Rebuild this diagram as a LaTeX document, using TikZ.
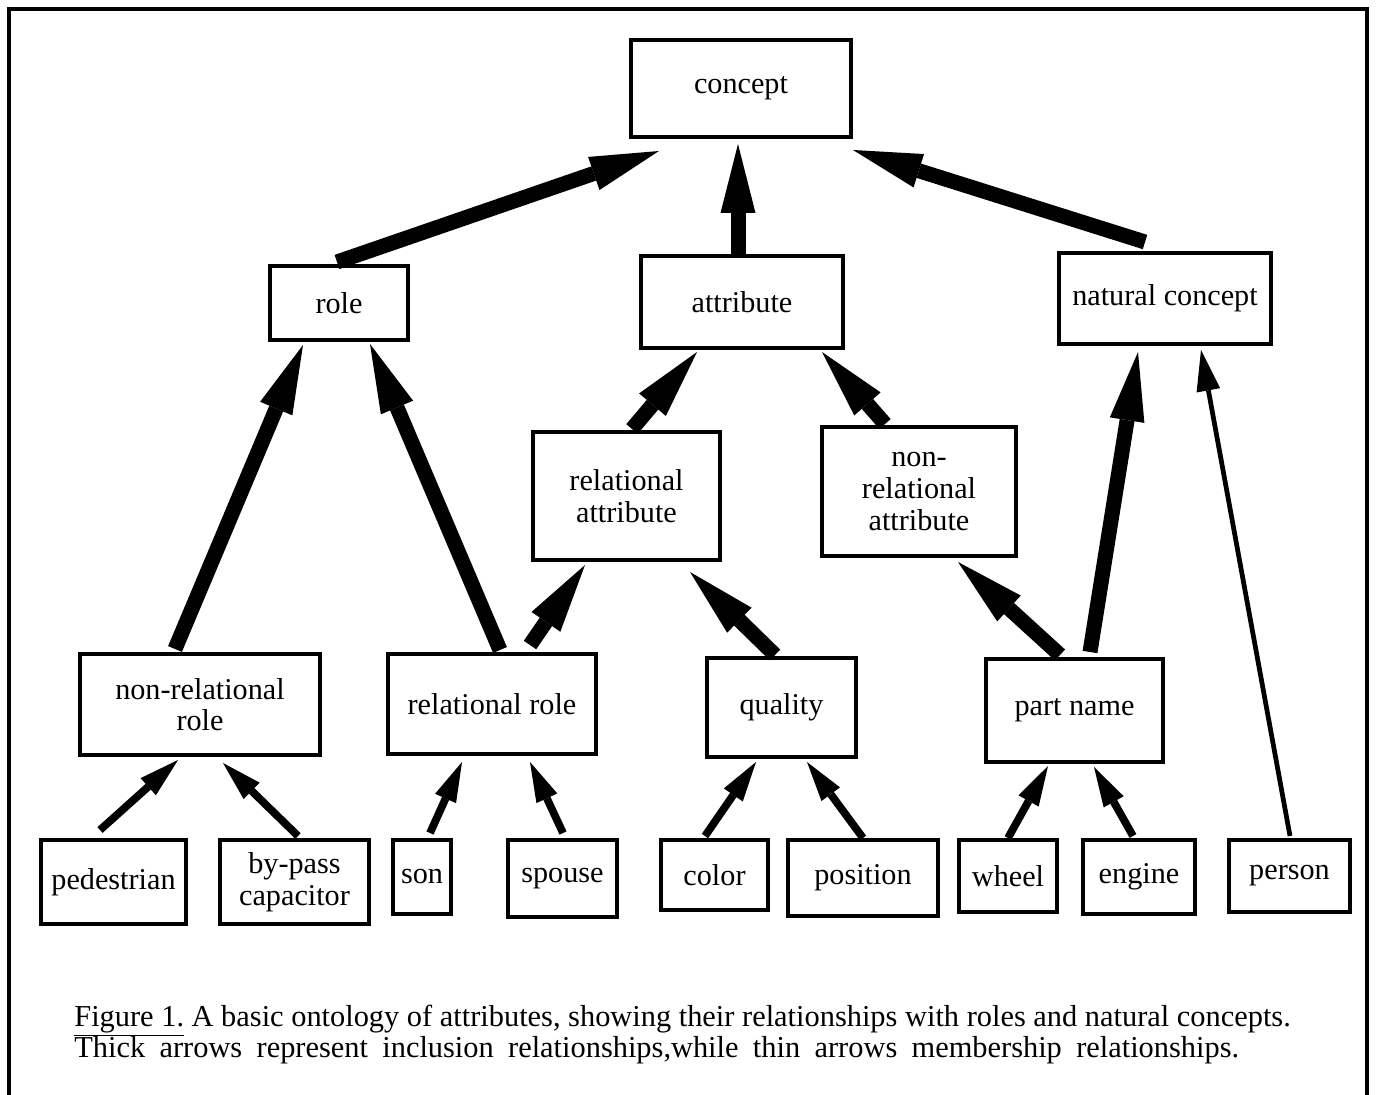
\documentclass[tikz,border=0pt]{standalone}
\usepackage{fontspec}
\setmainfont{Liberation Serif}
\usetikzlibrary{arrows.meta,calc}

\tikzset{
  box/.style={draw, line width=0.095cm, inner sep=0pt, align=center,
    font=\fontsize{17.2}{18}\selectfont},
  incl/.style={line width=0.30cm, -{Triangle[length=1.38cm,width=0.70cm,line width=0pt]}},
  memb/.style={line width=0.155cm, -{Triangle[length=0.8cm,width=0.46cm,line width=0pt]}},
  membthin/.style={line width=0.095cm, -{Triangle[length=0.82cm,width=0.48cm,line width=0pt]}},
  captxt/.style={anchor=base west, inner sep=0pt, font=\fontsize{17.3}{18}\selectfont}
}

\begin{document}
\begin{tikzpicture}[x=0.02cm, y=-0.02cm]
\useasboundingbox (0,0) rectangle (1376,1095);
\draw[line width=0.08cm] (9,1095) -- (9,9) -- (1367,9) -- (1367,1095);

% top and second row
\node[box, minimum width=4.4cm, minimum height=1.94cm] (v1) at (741,88.5) {concept};
\node[box, minimum width=2.76cm, minimum height=1.48cm] (v2) at (339,303) {role};
\node[box, minimum width=4.04cm, minimum height=1.84cm] (v3) at (742,302) {attribute};
\node[box, minimum width=4.24cm, minimum height=1.82cm] (v4) at (1165,298.5) {natural concept};

% third row
\node[box, minimum width=3.74cm, minimum height=2.56cm] (v5) at (626.5,496) {relational\\attribute};
\node[box, minimum width=3.88cm, minimum height=2.58cm] (v6) at (919,491.5) {non-\\relational\\attribute};

% fourth row
\node[box, minimum width=4.8cm, minimum height=2.02cm] (v7) at (200,704.5) {non-relational\\role};
\node[box, minimum width=4.16cm, minimum height=2.0cm] (v8) at (492,704) {relational role};
\node[box, minimum width=2.98cm, minimum height=1.98cm] (v9) at (781.5,707.5) {quality};
\node[box, minimum width=3.54cm, minimum height=2.06cm] (v10) at (1074.5,710.5) {part name};

% bottom row
\node[box, minimum width=2.9cm, minimum height=1.68cm] (v11) at (113.5,882) {pedestrian};
\node[box, minimum width=2.98cm, minimum height=1.68cm] (v12) at (294.5,882) {by-pass\\capacitor};
\node[box, minimum width=1.16cm, minimum height=1.48cm] (v13) at (422,877) {son};
\node[box, minimum width=2.18cm, minimum height=1.54cm] (v14) at (562.5,878.5) {spouse};
\node[box, minimum width=2.14cm, minimum height=1.4cm] (v15) at (714.5,875) {color};
\node[box, minimum width=3.0cm, minimum height=1.52cm] (v16) at (863,878) {position};
\node[box, minimum width=1.96cm, minimum height=1.44cm] (v17) at (1008,876) {wheel};
\node[box, minimum width=2.24cm, minimum height=1.48cm] (v18) at (1139,877) {engine};
\node[box, minimum width=2.42cm, minimum height=1.44cm] (v19) at (1289.5,876) {person};

% inclusion
\draw[incl] ($(v2)+(-2,-41)$) -- ($(v1)+(-82,62.5)$);
\draw[incl] ($(v3)+(-4,-47)$) -- ($(v1)+(-3,55.5)$);
\draw[incl] ($(v4)+(-20,-56.5)$) -- ($(v1)+(112,61.5)$);
\draw[incl] ($(v5)+(5.5,-67)$) -- ($(v3)+(-45,50)$);
\draw[incl] ($(v6)+(-34,-67.5)$) -- ($(v3)+(80,50)$);
\draw[incl] ($(v7)+(-25,-55.5)$) -- ($(v2)+(-36,42)$);
\draw[incl] ($(v8)+(8,-54)$) -- ($(v2)+(31,41)$);
\draw[incl] ($(v8)+(38,-59)$) -- ($(v5)+(-41.5,69)$);
\draw[incl] ($(v9)+(-6.5,-52.5)$) -- ($(v5)+(63.5,76)$);
\draw[incl] ($(v10)+(-14.5,-55.5)$) -- ($(v6)+(39,70.5)$);
\draw[incl] ($(v10)+(15.5,-58.5)$) -- ($(v4)+(-27,53.5)$);

% membership
\draw[membthin] ($(v19)+(0.5,-40)$) -- ($(v4)+(36,51.5)$);
\draw[memb] ($(v11)+(-13.5,-52)$) -- ($(v7)+(-22,55.5)$);
\draw[memb] ($(v12)+(3.5,-46)$) -- ($(v7)+(23,58.5)$);
\draw[memb] ($(v13)+(8,-44)$) -- ($(v8)+(-30,58)$);
\draw[memb] ($(v14)+(0.5,-45.5)$) -- ($(v8)+(38,58)$);
\draw[memb] ($(v15)+(-9.5,-39)$) -- ($(v9)+(-25.5,54.5)$);
\draw[memb] ($(v16)+(0,-40)$) -- ($(v9)+(25.5,54.5)$);
\draw[memb] ($(v17)+(0,-38)$) -- ($(v10)+(-26.5,55.5)$);
\draw[memb] ($(v18)+(-6,-41)$) -- ($(v10)+(19.5,56.5)$);

\node[captxt] (cap1) at (74,1026) {\underline{Figure 1.} A basic ontology of attributes, showing their relationships with roles and natural concepts.};
\node[captxt] (cap2) at (74,1057) {\makebox[23.3cm][s]{Thick arrows represent inclusion relationships,while thin arrows membership relationships.}};
\end{tikzpicture}
\end{document}
